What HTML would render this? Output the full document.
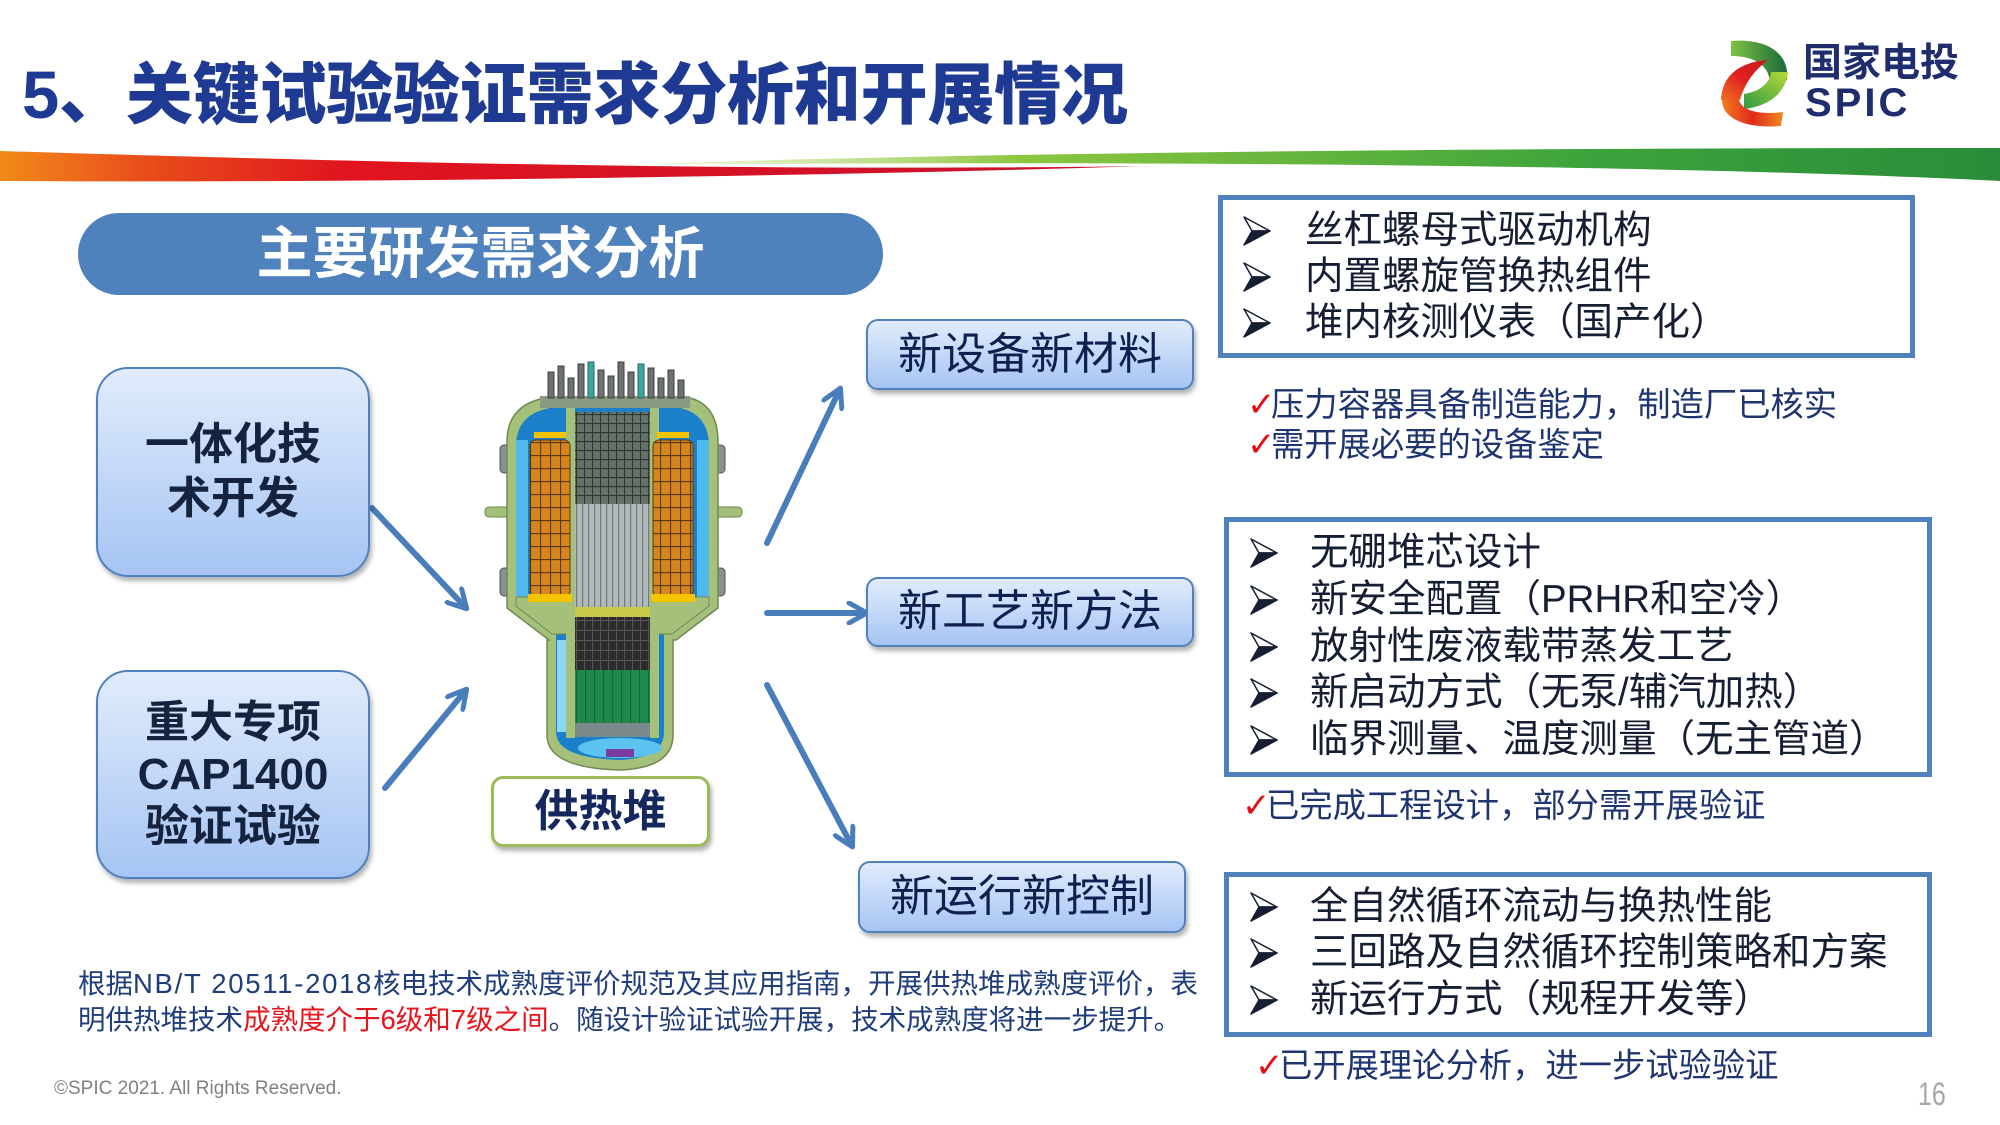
<!DOCTYPE html>
<html><head><meta charset="utf-8">
<style>
html,body{margin:0;padding:0;}
body{width:2000px;height:1125px;position:relative;overflow:hidden;background:#fff;font-family:"Liberation Sans","Noto Sans CJK SC",sans-serif;}
.abs{position:absolute;}
.ln{position:absolute;white-space:nowrap;line-height:1;}
.title{left:22px;top:62px;font-size:67px;font-weight:900;color:#1f3a93;letter-spacing:-0.2px;}
.pill{left:78px;top:213px;width:805px;height:82px;border-radius:41px;background:#4f81bd;color:#fff;font-size:56px;font-weight:700;display:flex;align-items:center;justify-content:center;line-height:1;}
.lbox{position:absolute;left:96px;width:270px;border:2.5px solid #4f81bd;border-radius:32px;background:linear-gradient(#e1ecfc,#a6c4f3);box-shadow:2px 4px 5px rgba(0,0,0,.3);display:flex;align-items:center;justify-content:center;text-align:center;color:#16233f;font-weight:700;font-size:44px;}
.sbox{position:absolute;width:324px;border:2.5px solid #4f81bd;border-radius:12px;background:linear-gradient(#e1ecfc,#a6c4f3);box-shadow:2px 4px 5px rgba(0,0,0,.3);display:flex;align-items:center;justify-content:center;color:#0f1f4f;font-size:44px;line-height:1;}
.bbox{position:absolute;border:5px solid #4f81bd;box-sizing:border-box;}
.it{font-size:38.5px;color:#161e33;}
.ck{font-size:33.3px;color:#1f3570;}
.ck b{font-family:"DejaVu Sans",sans-serif;color:#e3101a;font-weight:700;font-size:34px;display:inline-block;width:24px;}
.note{font-size:27.5px;color:#1f3d7a;}
.red{color:#e8141c;}
</style></head>
<body>
<svg class="abs" style="left:0;top:0" width="2000" height="1125" viewBox="0 0 2000 1125">
<defs>
<linearGradient id="gr" x1="0" y1="0" x2="1" y2="0">
<stop offset="0" stop-color="#f28a1a"/><stop offset="0.12" stop-color="#e8501a"/><stop offset="0.3" stop-color="#e0141e"/><stop offset="1" stop-color="#c8102e"/>
</linearGradient>
<linearGradient id="gg" x1="0" y1="0" x2="1" y2="0">
<stop offset="0" stop-color="#d6e89a" stop-opacity="0.2"/><stop offset="0.3" stop-color="#8cc63f"/><stop offset="0.7" stop-color="#3da43c"/><stop offset="1" stop-color="#2a8c3a"/>
</linearGradient>
<linearGradient id="lg1" x1="0" y1="0" x2="1" y2="0"><stop offset="0" stop-color="#7dc242"/><stop offset="1" stop-color="#1b6a3b"/></linearGradient>
<linearGradient id="lg2" x1="0" y1="1" x2="1" y2="0"><stop offset="0" stop-color="#f07020"/><stop offset="0.5" stop-color="#e02020"/><stop offset="1" stop-color="#c81818"/></linearGradient>
<linearGradient id="lg3" x1="1" y1="0" x2="0" y2="1"><stop offset="0" stop-color="#b5d935"/><stop offset="1" stop-color="#2e9a45"/></linearGradient>
<linearGradient id="lg4" x1="0" y1="0" x2="1" y2="0"><stop offset="0" stop-color="#f47a20"/><stop offset="0.5" stop-color="#e02a1c"/><stop offset="1" stop-color="#f08a20"/></linearGradient>
<marker id="ah" viewBox="0 0 24 24" refX="20" refY="12" markerWidth="24" markerHeight="24" markerUnits="userSpaceOnUse" orient="auto">
<path d="M3,2 L21,12 L3,22" fill="none" stroke="#4a7ebb" stroke-width="5" stroke-linecap="round" stroke-linejoin="round"/>
</marker>
<pattern id="sg" width="10" height="13" patternUnits="userSpaceOnUse">
<rect width="10" height="13" fill="#d4861c"/><path d="M0,0.5 H10 M0.5,0 V13" stroke="#5a3810" stroke-width="1.2"/>
</pattern>
<pattern id="cg" width="8" height="9" patternUnits="userSpaceOnUse">
<rect width="8" height="9" fill="#66736a"/><path d="M0,0.5 H8 M0.5,0 V9" stroke="#2f3530" stroke-width="1.2"/>
</pattern>
<pattern id="rd" width="6" height="10" patternUnits="userSpaceOnUse">
<rect width="6" height="10" fill="#aeb9b8"/><path d="M0.5,0 V10" stroke="#6f7a7a" stroke-width="1.4"/>
</pattern>
<pattern id="co" width="8" height="10" patternUnits="userSpaceOnUse">
<rect width="8" height="10" fill="#2c2c2c"/><path d="M0.5,0 V10 M0,0.5 H8" stroke="#565656" stroke-width="1"/>
</pattern>
<pattern id="gn" width="9" height="10" patternUnits="userSpaceOnUse">
<rect width="9" height="10" fill="#1f8a4c"/><path d="M0.5,0 V10" stroke="#15643a" stroke-width="1.2"/>
</pattern>
</defs>

<!-- swoosh -->
<path d="M0,151 C300,160 700,172 1150,166 C750,178 300,183 0,181 Z" fill="url(#gr)"/>
<path d="M600,165 C1000,152 1500,148 2000,148 L2000,181 C1700,166 1200,160 600,165 Z" fill="url(#gg)"/>

<!-- logo -->
<path d="M1731,41 C1765,38 1790,52 1787,80 L1770,84 C1770,66 1755,56 1731,56 Z" fill="url(#lg1)"/>
<path d="M1768,60 C1740,62 1722,75 1721,100 L1740,100 C1745,82 1755,70 1768,60 Z" fill="url(#lg2)"/>
<path d="M1788,72 C1786,92 1770,106 1744,109 L1744,94 C1762,91 1770,82 1771,72 Z" fill="url(#lg3)"/>
<path d="M1722,100 C1722,118 1745,129 1781,126 L1783,112 C1760,115 1742,111 1739,100 Z" fill="url(#lg4)"/>

<!-- arrows -->
<g stroke="#4a7ebb" stroke-width="6" fill="none" stroke-linecap="round" marker-end="url(#ah)">
<line x1="372" y1="508" x2="466" y2="608"/>
<line x1="385" y1="788" x2="466" y2="690"/>
<line x1="767" y1="543" x2="840" y2="389"/>
<line x1="767" y1="613" x2="866" y2="613"/>
<line x1="767" y1="685" x2="852" y2="846"/>
</g>

<!-- reactor -->
<g>
<rect x="485" y="507" width="26" height="10" rx="4" fill="#a5c07a" stroke="#6f8a50"/>
<rect x="714" y="507" width="28" height="10" rx="4" fill="#a5c07a" stroke="#6f8a50"/>
<rect x="500" y="445" width="12" height="28" rx="4" fill="#8a8f90" stroke="#555"/>
<rect x="500" y="568" width="12" height="28" rx="4" fill="#8a8f90" stroke="#555"/>
<rect x="713" y="445" width="12" height="28" rx="4" fill="#8a8f90" stroke="#555"/>
<rect x="713" y="568" width="12" height="28" rx="4" fill="#8a8f90" stroke="#555"/>
<path d="M545,398 L690,398 Q717,405 718,440 L718,608 L676,640 L673,640 L673,735 Q673,768 620,770 Q547,768 547,735 L547,640 L549,640 L507,608 L507,440 Q508,405 545,398 Z" fill="#a5c07a" stroke="#6f8a50" stroke-width="1.5"/>
<path d="M550,408 L680,408 Q708,414 709,445 L709,600 L668,632 L664,632 L664,732 Q664,758 620,760 Q556,758 556,732 L556,632 L552,632 L516,600 L516,445 Q517,414 550,408 Z" fill="#1b7fc9"/>
<rect x="516" y="440" width="12" height="160" fill="#4fb8ec"/>
<rect x="697" y="440" width="12" height="160" fill="#4fb8ec"/>
<rect x="557" y="640" width="9" height="92" fill="#8fd6f5"/>
<ellipse cx="620" cy="748" rx="42" ry="10" fill="#5cc3f0"/>
<rect x="606" y="749" width="28" height="8" fill="#7a3aa0"/>
<path d="M516,597 L709,597 L709,606 L672,634 L552,634 L516,606 Z" fill="#a5c07a" stroke="#6f8a50"/>
<rect x="566" y="408" width="9" height="330" fill="#a5c07a"/>
<rect x="650" y="408" width="9" height="330" fill="#a5c07a"/>
<rect x="530" y="440" width="40" height="157" rx="6" fill="url(#sg)" stroke="#5a3810"/>
<rect x="653" y="440" width="40" height="157" rx="6" fill="url(#sg)" stroke="#5a3810"/>
<rect x="528" y="594" width="44" height="8" fill="#f5c400"/>
<rect x="651" y="594" width="44" height="8" fill="#f5c400"/>
<rect x="534" y="432" width="32" height="6" fill="#f5c400"/>
<rect x="657" y="432" width="32" height="6" fill="#f5c400"/>
<rect x="575" y="412" width="75" height="92" fill="url(#cg)"/>
<rect x="575" y="504" width="75" height="103" fill="url(#rd)"/>
<rect x="575" y="607" width="75" height="10" fill="#c9c94a"/>
<rect x="575" y="617" width="75" height="53" fill="url(#co)"/>
<rect x="575" y="670" width="75" height="53" fill="url(#gn)"/>
<rect x="575" y="723" width="75" height="14" fill="#7a8a8a"/>
<rect x="540" y="396" width="150" height="12" fill="#8a9a80"/>
<g fill="#6d7270" stroke="#3c4040" stroke-width="1">
<rect x="548" y="372" width="6" height="26"/><rect x="558" y="366" width="6" height="32"/>
<rect x="568" y="378" width="6" height="20"/><rect x="578" y="364" width="6" height="34"/>
<rect x="598" y="370" width="6" height="28"/><rect x="608" y="376" width="6" height="22"/>
<rect x="618" y="362" width="6" height="36"/><rect x="628" y="372" width="6" height="26"/>
<rect x="648" y="368" width="6" height="30"/><rect x="658" y="378" width="6" height="20"/>
<rect x="668" y="370" width="6" height="28"/><rect x="678" y="380" width="6" height="18"/>
</g>
<rect x="588" y="362" width="6" height="36" fill="#3aa6a0" stroke="#2a6660"/>
<rect x="638" y="364" width="6" height="34" fill="#3aa6a0" stroke="#2a6660"/>
</g>
</svg>

<div class="ln title">5、关键试验验证需求分析和开展情况</div>
<div class="abs" style="left:1803px;top:44px;font-size:39px;font-weight:700;color:#1f2d6e;line-height:1;font-family:'Liberation Sans','Noto Sans CJK SC',sans-serif;">国家电投</div>
<div class="abs" style="left:1805px;top:83px;font-size:40px;font-weight:700;color:#1f2d6e;line-height:1;letter-spacing:3px;">SPIC</div>

<div class="abs pill">主要研发需求分析</div>

<div class="lbox" style="top:367px;height:206px;line-height:54px;">一体化技<br>术开发</div>
<div class="lbox" style="top:670px;height:205px;line-height:52px;">重大专项<br>CAP1400<br>验证试验</div>

<div class="abs" style="left:491px;top:776px;width:213px;height:65px;border:3px solid #9bbb59;border-radius:12px;background:#fff;box-shadow:2px 4px 5px rgba(0,0,0,.3);display:flex;align-items:center;justify-content:center;font-size:44px;font-weight:700;color:#14285e;line-height:1;">供热堆</div>

<div class="sbox" style="left:866px;top:319px;height:67px;">新设备新材料</div>
<div class="sbox" style="left:866px;top:577px;height:66px;">新工艺新方法</div>
<div class="sbox" style="left:858px;top:861px;height:68px;">新运行新控制</div>

<!-- bordered boxes -->
<div class="bbox" style="left:1218px;top:195px;width:697px;height:163px;"></div>
<div class="bbox" style="left:1224px;top:517px;width:708px;height:260px;"></div>
<div class="bbox" style="left:1224px;top:872px;width:708px;height:165px;"></div>

<svg class="abs" style="left:0;top:0" width="2000" height="1125" viewBox="0 0 2000 1125">
<defs>
<g id="bl">
<path d="M0,-14 L26,0 L8,0 Z" fill="#fff" stroke="#161e33" stroke-width="1.5" stroke-linejoin="round"/>
<path d="M0,14 L26,0 L8,0 Z" fill="#161e33" stroke="#161e33" stroke-width="1.5" stroke-linejoin="round"/>
</g>
</defs>
<use href="#bl" x="1244" y="231"/><use href="#bl" x="1244" y="277"/><use href="#bl" x="1244" y="323"/>
<use href="#bl" x="1251" y="553"/><use href="#bl" x="1251" y="600"/><use href="#bl" x="1251" y="647"/><use href="#bl" x="1251" y="693"/><use href="#bl" x="1251" y="740"/>
<use href="#bl" x="1251" y="907"/><use href="#bl" x="1251" y="953"/><use href="#bl" x="1251" y="1000"/>
</svg>

<div class="ln it" style="left:1305px;top:212px;">丝杠螺母式驱动机构</div>
<div class="ln it" style="left:1305px;top:258px;">内置螺旋管换热组件</div>
<div class="ln it" style="left:1305px;top:304px;">堆内核测仪表（国产化）</div>

<div class="ln ck" style="left:1247px;top:388px;"><b>✓</b>压力容器具备制造能力，制造厂已核实</div>
<div class="ln ck" style="left:1247px;top:428px;"><b>✓</b>需开展必要的设备鉴定</div>

<div class="ln it" style="left:1310px;top:534px;">无硼堆芯设计</div>
<div class="ln it" style="left:1310px;top:581px;">新安全配置（PRHR和空冷）</div>
<div class="ln it" style="left:1310px;top:628px;">放射性废液载带蒸发工艺</div>
<div class="ln it" style="left:1310px;top:674px;">新启动方式（无泵/辅汽加热）</div>
<div class="ln it" style="left:1310px;top:721px;">临界测量、温度测量（无主管道）</div>

<div class="ln ck" style="left:1242px;top:789px;"><b>✓</b>已完成工程设计，部分需开展验证</div>

<div class="ln it" style="left:1310px;top:888px;">全自然循环流动与换热性能</div>
<div class="ln it" style="left:1310px;top:934px;">三回路及自然循环控制策略和方案</div>
<div class="ln it" style="left:1310px;top:981px;">新运行方式（规程开发等）</div>

<div class="ln ck" style="left:1255px;top:1049px;"><b>✓</b>已开展理论分析，进一步试验验证</div>

<div class="ln note" style="left:78px;top:970px;">根据<span style="letter-spacing:1.7px">NB/T 20511-2018</span>核电技术成熟度评价规范及其应用指南，开展供热堆成熟度评价，表</div>
<div class="ln note" style="left:78px;top:1006px;">明供热堆技术<span class="red">成熟度介于6级和7级之间</span>。随设计验证试验开展，技术成熟度将进一步提升。</div>

<div class="ln" style="left:54px;top:1079px;font-size:19px;color:#808080;">©SPIC 2021. All Rights Reserved.</div>
<div class="ln" style="left:1918px;top:1078px;font-size:32px;color:#a6a6a6;transform:scaleX(0.78);transform-origin:left top;">16</div>
</body></html>
